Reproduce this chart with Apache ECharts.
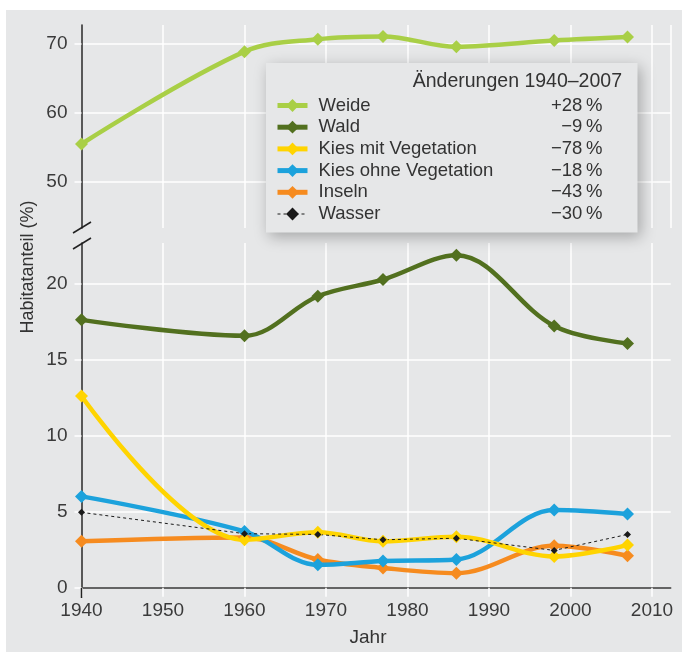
<!DOCTYPE html>
<html>
<head>
<meta charset="utf-8">
<script src="https://cdn.jsdelivr.net/npm/echarts@6/dist/echarts.min.js"></script>
<style>
  html, body { margin: 0; padding: 0; background: #ffffff; }
  #panel { position: absolute; left: 6px; top: 10px; width: 676px; height: 642px; background: #e6e7e8; }
  #chart { position: absolute; left: 0; top: 0; width: 682px; height: 653px; }
</style>
</head>
<body>
<div id="panel"></div>
<div id="chart"></div>
<script>
// Jahre der Erhebungen
const years = [1940, 1960, 1969, 1977, 1986, 1998, 2007];

// Habitatanteil (%)
const weide = [55.5, 68.8, 70.6, 71.0, 69.5, 70.4, 70.9];
const wald = [17.6, 16.55, 19.15, 20.25, 21.85, 17.2, 16.05];
const kiesMit = [12.6, 3.15, 3.65, 3.05, 3.35, 2.05, 2.8];
const kiesOhne = [6.0, 3.7, 1.5, 1.75, 1.85, 5.1, 4.85];
const inseln = [3.05, 3.3, 1.85, 1.3, 0.95, 2.75, 2.1];
const wasser = [4.95, 3.55, 3.5, 3.15, 3.25, 2.45, 3.5];

const seriesNames = ['Weide', 'Wald', 'Kies mit Vegetation', 'Kies ohne Vegetation', 'Inseln', 'Wasser'];
const changes = ['+28\u202f%', '\u22129\u202f%', '\u221278\u202f%', '\u221218\u202f%', '\u221243\u202f%', '\u221230\u202f%'];

const xTicks = [1940, 1950, 1960, 1970, 1980, 1990, 2000, 2010];
const yTicksTop = [50, 60, 70];
const yTicksBottom = [0, 5, 10, 15, 20];

const pair = (vals) => years.map((y, i) => [y, vals[i]]);

const chart = echarts.init(document.getElementById('chart'), null, { renderer: 'canvas' });

const fontName = 'Liberation Sans, Arial, sans-serif';
const labelFont = { fontFamily: fontName, fontSize: 19, color: '#3a3a3a' };
const gridLine = { show: true, lineStyle: { color: '#ffffff', width: 1.5 } };

const xBase = {
    type: 'value',
    min: 1940,
    max: 2012.3,
    splitLine: gridLine,
};

const lineSeries = (name, data, color, grid, opts) => Object.assign({
    name: name,
    type: 'line',
    data: pair(data),
    xAxisIndex: grid,
    yAxisIndex: grid,
    smooth: 0.35,
    symbol: 'diamond',
    symbolSize: 13,
    lineStyle: { color: color, width: 4.5 },
    itemStyle: { color: color },
    emphasis: { disabled: true },
}, opts || {});

const legendData = seriesNames.map(n => n === 'Wasser'
    ? { name: n, lineStyle: { width: 1 } }
    : { name: n, lineStyle: { width: 5 } });

const option = {
    animation: false,
    title: {
        text: '\u00c4nderungen 1940\u20132007',
        right: 60,
        top: 72,
        padding: 0,
        textStyle: { fontFamily: fontName, fontSize: 19.5, fontWeight: 'normal', color: '#333333' },
    },
    legend: {
        orient: 'vertical',
        left: 266,
        top: 63,
        padding: [33, 35, 9, 9],
        itemWidth: 30,
        itemHeight: 16,
        itemGap: 2.7,
        backgroundColor: '#e6e7e8',
        shadowBlur: 14,
        shadowColor: 'rgba(0,0,0,0.28)',
        shadowOffsetX: 3,
        shadowOffsetY: 4,
        data: legendData,
        selectedMode: false,
        formatter: function (name) {
            const pct = changes[seriesNames.indexOf(name)];
            return '{n|' + name + '}{p|' + pct + '}';
        },
        textStyle: {
            fontFamily: fontName,
            fontSize: 18.5,
            color: '#333333',
            rich: {
                n: { width: 190, padding: [0, 0, 0, 6], fontSize: 18.5, lineHeight: 16, color: '#333333' },
                p: { width: 94, align: 'right', fontSize: 18.5, lineHeight: 16, color: '#333333' },
            },
        },
    },
    grid: [
        { left: 81.5, right: 11.3, top: 25, height: 203 },
        { left: 81.5, right: 11.3, top: 243, height: 344.7 },
    ],
    xAxis: [
        Object.assign({}, xBase, {
            gridIndex: 0,
            axisLine: { show: false },
            axisTick: { show: false },
            axisLabel: { show: false },
        }),
        Object.assign({}, xBase, {
            gridIndex: 1,
            axisLine: { show: true, onZero: false, lineStyle: { color: '#333333', width: 1.5 } },
            axisTick: { show: true, length: 9, customValues: xTicks, lineStyle: { color: '#ffffff', width: 1.5 } },
            axisLabel: Object.assign({ customValues: xTicks, margin: 14, formatter: v => String(v) }, labelFont),
        }),
    ],
    yAxis: [
        {
            type: 'value',
            gridIndex: 0,
            min: 43.4,
            max: 72.64,
            axisLine: { show: true, lineStyle: { color: '#222222', width: 1.5 } },
            axisTick: { show: true, length: 7, customValues: yTicksTop, lineStyle: { color: '#ffffff', width: 1.5 } },
            axisLabel: Object.assign({ customValues: yTicksTop, margin: 14 }, labelFont),
            splitLine: gridLine,
        },
        {
            type: 'value',
            gridIndex: 1,
            min: 0,
            max: 22.65,
            axisLine: { show: true, lineStyle: { color: '#222222', width: 1.5 } },
            axisTick: { show: true, length: 7, customValues: yTicksBottom, lineStyle: { color: '#ffffff', width: 1.5 } },
            axisLabel: Object.assign({ customValues: yTicksBottom, margin: 14 }, labelFont),
            splitLine: gridLine,
        },
    ],
    graphic: [
        // Achsenbruch
        { type: 'line', shape: { x1: 73, y1: 233, x2: 91, y2: 222 }, style: { stroke: '#222222', lineWidth: 1.5 }, z: 100 },
        { type: 'line', shape: { x1: 73, y1: 249, x2: 91, y2: 238 }, style: { stroke: '#222222', lineWidth: 1.5 }, z: 100 },
        { type: 'line', shape: { x1: 81.5, y1: 588, x2: 81.5, y2: 598 }, style: { stroke: '#222222', lineWidth: 1.5 }, z: 100 },
        {
            type: 'text', x: 28, y: 267, rotation: Math.PI / 2,
            style: { text: 'Habitatanteil (%)', fill: '#333333', font: '18px Liberation Sans, Arial, sans-serif', align: 'center', verticalAlign: 'middle' },
        },
        {
            type: 'text', x: 368, y: 638,
            style: { text: 'Jahr', fill: '#333333', font: '19px Liberation Sans, Arial, sans-serif', align: 'center', verticalAlign: 'middle' },
        },
    ],
    series: [
        lineSeries('Weide', weide, '#a9cf46', 0),
        lineSeries('Wald', wald, '#52701f', 1),
        lineSeries('Inseln', inseln, '#f68b1f', 1),
        lineSeries('Kies ohne Vegetation', kiesOhne, '#1ca2dc', 1),
        lineSeries('Kies mit Vegetation', kiesMit, '#ffd400', 1),
        lineSeries('Wasser', wasser, '#1a1a1a', 1, {
            smooth: false,
            symbolSize: 7,
            lineStyle: { color: '#1a1a1a', width: 1, type: [3, 3] },
        }),
    ],
};

chart.setOption(option);
</script>
</body>
</html>
